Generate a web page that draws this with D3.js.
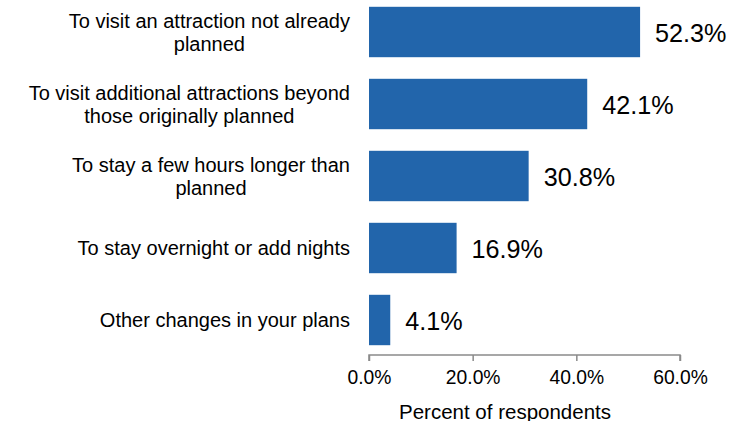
<!DOCTYPE html>
<html>
<head>
<meta charset="utf-8">
<script src="https://cdn.jsdelivr.net/npm/d3@7/dist/d3.min.js"></script>
<style>
  html, body { margin: 0; padding: 0; background: #fff; }
  svg { display: block; font-family: Arial, "Liberation Sans", sans-serif; }
</style>
</head>
<body>
<svg id="chart" width="745" height="421"></svg>
<script>
// Reasons for changing trip plans, share of respondents (%)
const categories = [
  ["To visit an attraction not already", "planned"],
  ["To visit additional attractions beyond", "those originally planned"],
  ["To stay a few hours longer than", "planned"],
  ["To stay overnight or add nights"],
  ["Other changes in your plans"]
];
const values = [52.3, 42.1, 30.8, 16.9, 4.1];
const tickValues = [0, 20, 40, 60];
const axisTitle = "Percent of respondents";

(function draw() {
  const svg = d3.select("#chart");
  const plotLeft = 369, plotRight = 680, plotTop = -4, axisY = 355;

  const x = d3.scaleLinear().domain([0, 60]).range([plotLeft, plotRight]);
  const y = d3.scaleBand()
    .domain(d3.range(values.length))
    .range([plotTop, 356])
    .paddingInner(0.3)
    .paddingOuter(0.15);

  // bars
  svg.append("g").selectAll("rect")
    .data(values)
    .join("rect")
    .attr("x", x(0))
    .attr("y", (d, i) => y(i))
    .attr("width", d => x(d) - x(0))
    .attr("height", y.bandwidth())
    .attr("fill", "#2265ab");

  // value labels
  svg.append("g").selectAll("text")
    .data(values)
    .join("text")
    .attr("x", d => x(d) + 15)
    .attr("y", (d, i) => y(i) + y.bandwidth() / 2 + 1)
    .attr("dy", "0.35em")
    .attr("font-size", 25.2)
    .attr("fill", "#000")
    .text(d => d.toFixed(1) + "%");

  // category labels (wrapped lines, centred within a block right-aligned at x=350)
  const lineH = 23;
  const cat = svg.append("g").selectAll("text")
    .data(categories)
    .join("text")
    .attr("text-anchor", "middle")
    .attr("font-size", 20)
    .attr("fill", "#000");
  cat.each(function(lines, i) {
    const t = d3.select(this);
    const cy = y(i) + y.bandwidth() / 2;
    const y0 = cy - (lines.length - 1) * lineH / 2;
    lines.forEach((ln, j) => {
      t.append("tspan")
        .attr("x", 0)
        .attr("y", y0 + j * lineH)
        .attr("dy", "0.35em")
        .text(ln);
    });
  });
  cat.each(function() {
    const t = d3.select(this);
    const w = this.getBBox().width;
    t.selectAll("tspan").attr("x", 350 - w / 2);
  });

  // x axis
  const axis = d3.axisBottom(x)
    .tickValues(tickValues)
    .tickSize(6)
    .tickPadding(9)
    .tickFormat(d => d.toFixed(1) + "%");
  const gx = svg.append("g")
    .attr("transform", `translate(0,${axisY})`)
    .call(axis);
  gx.select(".domain").attr("stroke", "#8a8a8a").attr("stroke-width", 1.5)
    .attr("d", `M${x(0)},6V0H${x(60)}V6`);
  gx.selectAll(".tick line").attr("stroke", "#8a8a8a").attr("stroke-width", 1.5);
  gx.selectAll(".tick text")
    .attr("font-size", 19.3)
    .attr("font-family", "Arial, 'Liberation Sans', sans-serif")
    .attr("fill", "#000");

  svg.append("text")
    .attr("x", 505)
    .attr("y", 412)
    .attr("dy", "0.35em")
    .attr("text-anchor", "middle")
    .attr("font-size", 20.5)
    .attr("fill", "#000")
    .text(axisTitle);
})();
</script>
</body>
</html>
